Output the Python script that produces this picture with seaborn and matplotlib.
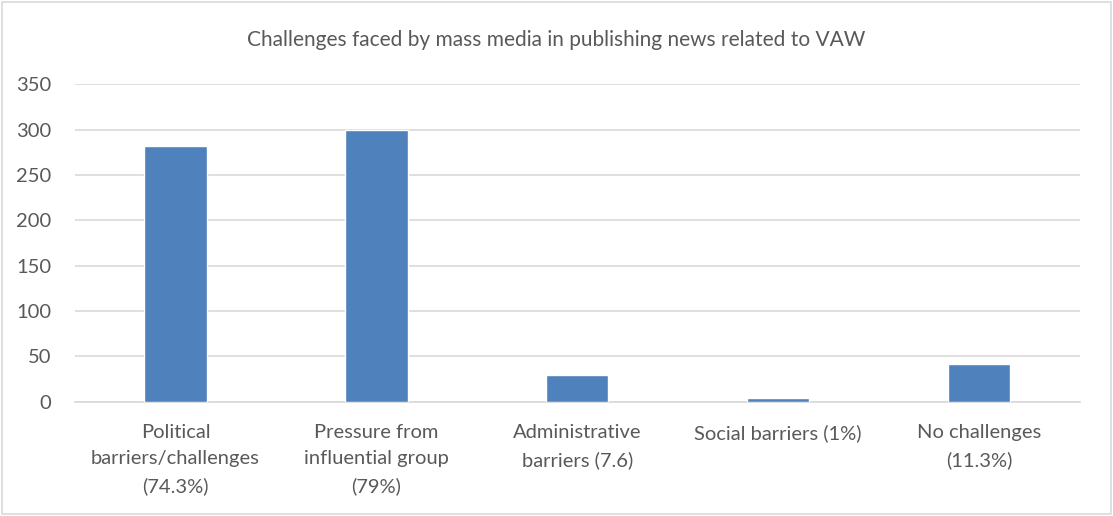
import matplotlib
matplotlib.use("Agg")
import matplotlib.pyplot as plt
import seaborn as sns
import pandas as pd

categories = [
    "Political\nbarriers/challenges\n(74.3%)",
    "Pressure from\ninfluential group\n(79%)",
    "Administrative\nbarriers (7.6)",
    "Social barriers (1%)",
    "No challenges\n(11.3%)",
]
counts = [282, 300, 29, 4, 42]
y_ticks = [0, 50, 100, 150, 200, 250, 300, 350]

sns.set_theme(style="white")
plt.rcParams["font.family"] = ["Lato", "DejaVu Sans"]

df = pd.DataFrame({"category": categories, "count": counts})

fig = plt.figure(figsize=(11.13, 5.16), dpi=100)
ax = fig.add_axes([0.0674, 0.2215, 0.9026, 0.6151])

sns.barplot(data=df, x="category", y="count", color="#4f81bd",
            saturation=1, width=0.31, ax=ax, zorder=3)

ax.set_ylim(0, 350)
ax.set_yticks(y_ticks)
ax.set_xlim(-0.5, len(categories) - 0.5)
ax.yaxis.grid(True, color="#d9d9d9", linewidth=1.2, zorder=0)
ax.xaxis.grid(False)
for side in ["top", "right", "left"]:
    ax.spines[side].set_visible(False)
ax.spines["bottom"].set_color("#d9d9d9")
ax.spines["bottom"].set_linewidth(1.2)
ax.set_xlabel("")
ax.set_ylabel("")
ax.tick_params(axis="both", length=0, colors="#595959", labelsize=14.5)
ax.tick_params(axis="y", pad=17)
ax.tick_params(axis="x", pad=16)
for lbl in ax.get_xticklabels():
    lbl.set_linespacing(1.68)
    lbl.set_verticalalignment("top")

fig.text(0.5, 0.922, "Challenges faced by mass media in publishing news related to VAW",
         ha="center", va="center", fontsize=15, color="#595959")

# light frame around the whole chart
fig.patches.append(plt.Rectangle((0.002, 0.003), 0.996, 0.994, transform=fig.transFigure,
                                 fill=False, edgecolor="#d9d9d9", linewidth=1.2))

fig.savefig("out.png", dpi=100, facecolor="white")
